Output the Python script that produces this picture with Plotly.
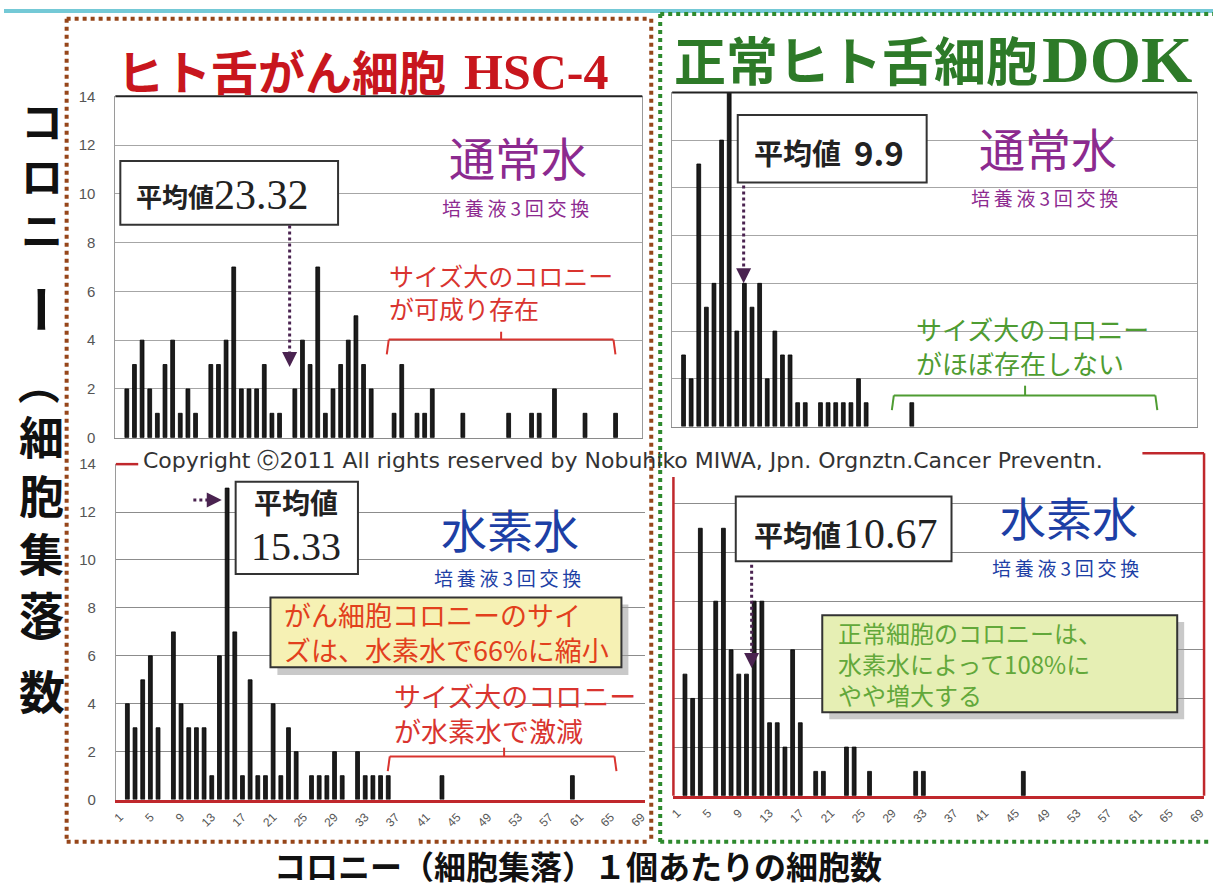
import plotly.graph_objects as go

W, H = 1216, 891
JP = "Noto Sans CJK JP"
SERIF = "Liberation Serif"
LATIN = "DejaVu Sans"
NARROW = "Liberation Sans Narrow, Liberation Sans, sans-serif"

# Number of colonies for each colony size (cells per colony)
hsc4_water_size = [2, 3, 4, 5, 6, 7, 8, 9, 10, 11, 13, 14, 15, 16, 17, 18, 19, 20, 21, 22,
                   24, 25, 26, 27, 28, 29, 30, 31, 32, 33, 34,
                   37, 38, 40, 41, 42, 46, 52, 55, 56, 58, 62, 66]
hsc4_water_count = [2, 3, 4, 2, 1, 3, 4, 1, 2, 1, 3, 3, 4, 7, 2, 2, 2, 3, 1, 1,
                    2, 4, 3, 7, 1, 2, 3, 4, 5, 3, 2,
                    1, 3, 1, 1, 2, 1, 1, 1, 1, 2, 1, 1]

dok_water_size = [2, 3, 4, 5, 6, 7, 8, 9, 10, 11, 12, 13, 14, 15, 16, 17, 18,
                  20, 21, 22, 23, 24, 25, 26, 32]
dok_water_count = [3, 2, 11, 5, 6, 12, 14, 4, 6, 5, 6, 2, 4, 3, 3, 1, 1,
                   1, 1, 1, 1, 1, 2, 1, 1]

hsc4_h2_size = [2, 3, 4, 5, 6, 8, 9, 10, 11, 12, 13, 14, 15, 16, 17, 18, 19, 20, 21, 22,
                23, 24, 26, 27, 28, 29, 30, 32, 33, 34, 35, 36, 43, 60]
hsc4_h2_count = [4, 3, 5, 6, 3, 7, 4, 3, 3, 3, 1, 6, 13, 7, 1, 5, 1, 1, 4, 1,
                 3, 2, 1, 1, 1, 2, 1, 2, 1, 1, 1, 1, 1, 1]

dok_h2_size = [2, 3, 4, 6, 7, 8, 9, 10, 11, 12, 13, 14, 15, 16, 17, 19, 20,
               23, 24, 26, 32, 33, 46]
dok_h2_count = [5, 4, 11, 8, 11, 6, 5, 5, 8, 8, 3, 3, 2, 6, 3, 1, 1,
                2, 2, 1, 1, 1, 1]

mean_hsc4_water = 23.32
mean_dok_water = 9.9
mean_hsc4_h2 = 15.33
mean_dok_h2 = 10.67

size_ticks = list(range(1, 70, 4))
count_ticks = list(range(0, 15, 2))


def fx(x):
    return x / W


def fy(y):
    return 1 - y / H


# panel frames in page pixels: left, right, top(y=14), bottom(y=0)
panels = [
    dict(size=hsc4_water_size, count=hsc4_water_count, box=(112, 642, 89, 437), bottom=False, ylabels=True),
    dict(size=dok_water_size, count=dok_water_count, box=(672, 1200, 85, 425.7), bottom=False, ylabels=False),
    dict(size=hsc4_h2_size, count=hsc4_h2_count, box=(112.5, 645, 464, 806), bottom=True, ylabels=True),
    dict(size=dok_h2_size, count=dok_h2_count, box=(673.3, 1207, 455, 802), bottom=True, ylabels=False),
]

fig = go.Figure()
layout_axes = {}
for i, p in enumerate(panels, start=1):
    sfx = "" if i == 1 else str(i)
    fig.add_trace(go.Bar(
        x=p["size"], y=p["count"], xaxis="x" + sfx, yaxis="y" + sfx,
        width=0.5, marker=dict(color="#1c1c1c", line=dict(color="#000000", width=0.8)),
        hoverinfo="x+y",
    ))
    l, r, t, b = p["box"]
    red = p["bottom"]
    layout_axes["xaxis" + sfx] = dict(
        domain=[fx(l), fx(r)], anchor="y" + sfx, range=[0.5, 69.5],
        showgrid=False, zeroline=False,
        showline=True, linecolor="#c0282c" if red else "#8a8a8a", linewidth=2.5 if red else 1,
        tickvals=size_ticks if p["bottom"] else [],
        showticklabels=p["bottom"], tickangle=-45,
        ticks="outside" if p["bottom"] else "", ticklen=3, tickcolor="rgba(0,0,0,0)",
        tickfont=dict(family=NARROW, size=12, color="#555555"),
        fixedrange=True,
    )
    layout_axes["yaxis" + sfx] = dict(
        domain=[fy(b), fy(t)], anchor="x" + sfx, range=[0, 14],
        tickvals=count_ticks, showticklabels=p["ylabels"],
        ticks="outside" if p["ylabels"] else "", ticklen=16, tickcolor="rgba(0,0,0,0)",
        tickfont=dict(family=NARROW, size=15, color="#555555"),
        showgrid=True, gridcolor="#8c8c8c" if red else "#a6a6a6", gridwidth=1,
        zeroline=False,
        showline=(i != 4), linecolor="#9a9a9a", linewidth=1, mirror=(i in (1, 2)),
        fixedrange=True,
    )

shapes = []
annotations = []


def line(x0, y0, x1, y1, color, width=2, dash=None):
    shapes.append(dict(type="line", xref="paper", yref="paper",
                       x0=fx(x0), y0=fy(y0), x1=fx(x1), y1=fy(y1),
                       line=dict(color=color, width=width, dash=dash), layer="above"))


def rect(x0, y0, x1, y1, fill, color=None, width=0, opacity=1.0):
    shapes.append(dict(type="rect", xref="paper", yref="paper",
                       x0=fx(x0), y0=fy(y1), x1=fx(x1), y1=fy(y0),
                       fillcolor=fill, opacity=opacity,
                       line=dict(color=color or "rgba(0,0,0,0)", width=width), layer="above"))


def txt(x, y, s, size, color, family=JP, xa="center", angle=0, align=None):
    annotations.append(dict(x=fx(x), y=fy(y), xref="paper", yref="paper", text=s,
                            showarrow=False, xanchor=xa, yanchor="middle", textangle=angle,
                            align=align or ("left" if xa == "left" else "center"),
                            font=dict(family=family, size=size, color=color)))


def bracket(x0, x1, ytop, yend, xmid, ytick, color):
    line(x0, yend, x0 + 2, ytop, color, 2)
    line(x0 + 2, ytop, x1 - 2, ytop, color, 2)
    line(x1 - 2, ytop, x1, yend, color, 2)
    line(xmid, ytop, xmid, ytick, color, 2)


def mean_arrow(idx, xm, y_from, y_to, color="#4a2350"):
    sfx = "" if idx == 1 else str(idx)
    shapes.append(dict(type="line", xref="x" + sfx, yref="y" + sfx,
                       x0=xm, x1=xm, y0=y_from, y1=y_to + 0.45,
                       line=dict(color=color, width=3, dash="dot"), layer="above"))
    annotations.append(dict(x=xm, y=y_to, xref="x" + sfx, yref="y" + sfx, text="",
                            showarrow=True, ax=0, ay=-12, arrowhead=2, arrowsize=1,
                            arrowwidth=3, arrowcolor=color))


# top strip and dotted frames
rect(0, 0, W, 4, "#74c9d6")
BROWN = "#96461a"
GREEN = "#2f8a2f"
line(63, 10, 650, 10, BROWN, 4, "dot")
line(63, 10, 63, 850, BROWN, 4, "dot")
line(63, 849, 650, 849, BROWN, 4, "dot")
line(651, 10, 651, 850, BROWN, 4, "dot")
line(660, 5, W, 5, GREEN, 4, "dot")
line(660, 5, 660, 850, GREEN, 4, "dot")
line(660, 849, 1212, 849, GREEN, 4, "dot")

# panel edges
line(112, 89, 642, 89, "#222222", 2)
line(672, 85, 1200, 85, "#222222", 2)
line(112.5, 464, 135, 464, "#c0282c", 2.5)
line(673.3, 477, 673.3, 802, "#c0282c", 2.5)
line(1207, 453, 1207, 802, "#c0282c", 2.5)
line(1145, 453, 1207, 453, "#c0282c", 2.5)

# titles
txt(112, 62, "<b>ヒト舌がん細胞</b>", 47, "#c8161d", xa="left")
txt(461, 64, "<b>HSC-4</b>", 50, "#c8161d", family=SERIF, xa="left")
txt(672, 50, "<b>正常ヒト舌細胞</b>", 52, "#2d7a28", xa="left")
txt(1042, 51, "<b>DOK</b>", 66, "#2d7a28", family=SERIF, xa="left")

# vertical axis title, written top to bottom
txt(38, 168, "<b>コ<br>ロ<br>ニ</b>", 42, "#111111")
txt(40, 306, "<b>ー</b>", 50, "#111111", angle=90)
txt(38, 382, "<b>（</b>", 42, "#111111", angle=90)
txt(38, 525, "<b>細<br>胞<br>集<br>落</b>", 45, "#111111")
txt(40, 650, "<b>）</b>", 42, "#111111", angle=90)
txt(38, 693, "<b>数</b>", 46, "#111111")

# horizontal axis title
txt(577, 873, "<b>コロニー（細胞集落）１個あたりの細胞数</b>", 32, "#111111")

# copyright line
txt(623, 460, "Copyright ⓒ2011 All rights reserved by Nobuhiko MIWA, Jpn. Orgnztn.Cancer Preventn.",
    22, "#333333", family=LATIN)

PURPLE = "#8c2a8f"
BLUE = "#1d3fa5"
SUB = "培\u2009養\u2009液\u20093\u2009回\u2009交\u2009換"
txt(517, 150, "通常水", 46, PURPLE)
txt(514, 202, SUB, 19, PURPLE)
txt(1050, 141, "通常水", 46, PURPLE)
txt(1047, 192, SUB, 19, PURPLE)
txt(509, 529, "水素水", 46, BLUE)
txt(506, 580, SUB, 19, BLUE)
txt(1071, 517, "水素水", 46, BLUE)
txt(1068, 569, SUB, 19, BLUE)

# mean value boxes
rect(117, 155, 336, 220, "#ffffff", "#333333", 2)
txt(131, 190, "<b>平均値</b>", 26, "#222222", xa="left")
txt(209, 190, f"{mean_hsc4_water:.2f}", 42, "#222222", family=SERIF, xa="left")

rect(738, 108, 928, 177, "#ffffff", "#333333", 2)
txt(752, 146, "<b>平均値</b>", 29, "#222222", xa="left")
txt(853, 146, f"<b>{mean_dok_water:.1f}</b>", 33, "#222222", xa="left")

rect(233, 482, 356, 576, "#ffffff", "#333333", 2)
txt(294, 503, "<b>平均値</b>", 28, "#222222")
txt(294, 548, f"{mean_hsc4_h2:.2f}", 40, "#222222", family=SERIF)

rect(736, 497, 953, 563, "#ffffff", "#333333", 2)
txt(752, 535, "<b>平均値</b>", 29, "#222222", xa="left")
txt(842, 535, f"{mean_dok_h2:.2f}", 42, "#222222", family=SERIF, xa="left")

# arrows to the mean colony size
mean_arrow(1, mean_hsc4_water, 8.7, 2.9)
mean_arrow(2, mean_dok_water, 10.1, 6.0)
mean_arrow(4, mean_dok_h2, 9.5, 5.25)
shapes.append(dict(type="line", xref="x3", yref="y3", x0=10.6, x1=13.6, y0=12.5, y1=12.5,
                   line=dict(color="#4a2350", width=3, dash="dot"), layer="above"))
annotations.append(dict(x=14.3, y=12.5, xref="x3", yref="y3", text="", showarrow=True,
                        ax=-12, ay=0, arrowhead=2, arrowsize=1, arrowwidth=3, arrowcolor="#4a2350"))

# comment boxes
rect(275, 607, 628, 679, "#9c9c9c", opacity=0.55)
rect(268, 600, 621, 671, "#f6f1b4", "#333333", 2)
txt(280, 635, "がん細胞コロニーのサイ<br>ズは、水素水で66%に縮小", 27, "#e2401c", xa="left")

rect(830, 625, 1187, 724, "#9c9c9c", opacity=0.55)
rect(823, 618, 1180, 717, "#e6efb4", "#333333", 2)
txt(837, 667, "正常細胞のコロニーは、<br>水素水によって108%に<br>やや増大する", 24, "#62a83a", xa="left")

# large-colony notes
RED = "#d9342f"
LGREEN = "#4e9c32"
txt(385, 288, "サイズ大のコロニー<br>が可成り存在", 25, RED, xa="left")
bracket(385, 615, 337, 352, 500, 329, RED)

txt(915, 343, "サイズ大のコロニー<br>がほぼ存在しない", 26, LGREEN, xa="left")
bracket(893, 1160, 394, 409, 1027, 384, LGREEN)

txt(390, 718, "サイズ大のコロニー<br>が水素水で激減", 27, RED, xa="left")
bracket(386, 616, 762, 777, 503, 753, RED)

fig.update_layout(
    width=W, height=H, margin=dict(l=0, r=0, t=0, b=0),
    paper_bgcolor="#ffffff", plot_bgcolor="#ffffff",
    showlegend=False, shapes=shapes, annotations=annotations,
    **layout_axes,
)

fig.write_html("out.html")
